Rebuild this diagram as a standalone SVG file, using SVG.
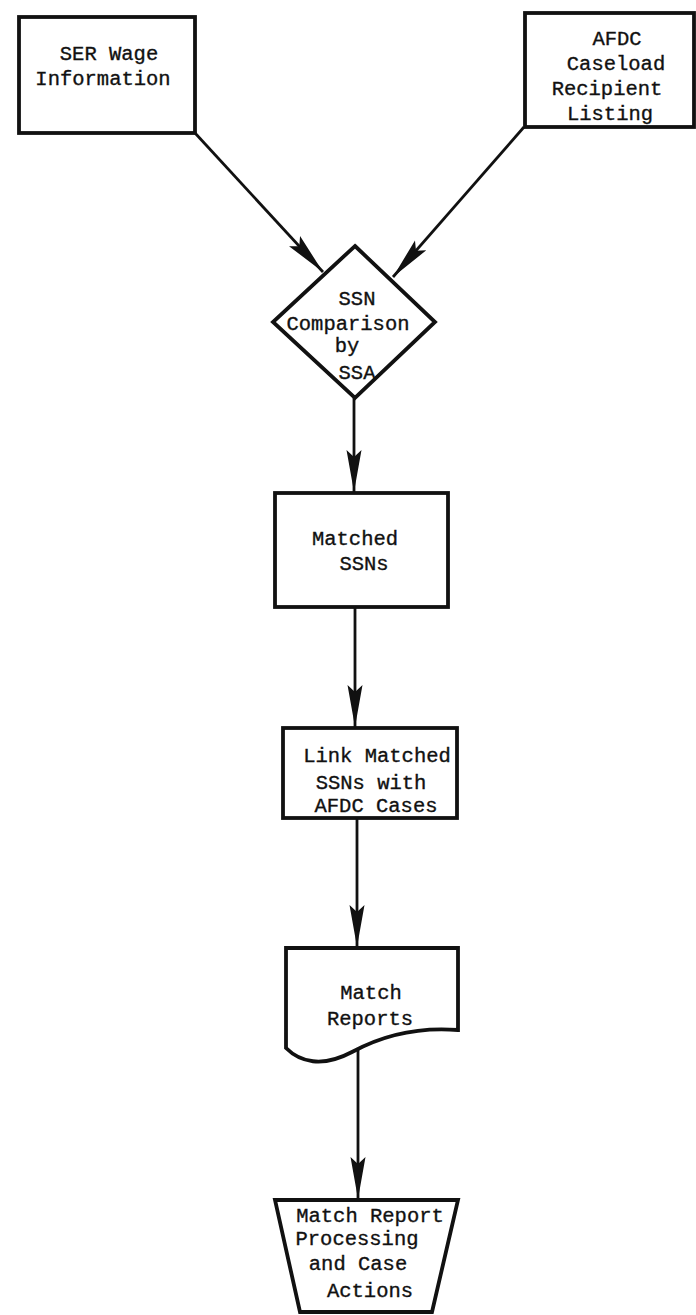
<svg xmlns="http://www.w3.org/2000/svg" width="696" height="1315" viewBox="0 0 696 1315">
  <style>
    .box { fill: #fff; stroke: #111; stroke-width: 3.8; stroke-linejoin: miter; }
    .lbl { font-family: "Liberation Mono", "DejaVu Sans Mono", monospace; font-size: 20.5px; fill: #111; stroke: #111; stroke-width: 0.35; text-anchor: middle; }
    .flow { fill: none; stroke: #111; stroke-width: 2.8; marker-end: url(#head); }
  </style>
  <defs>
    <marker id="head" markerUnits="userSpaceOnUse" viewBox="-44 -10 48 20" refX="0" refY="0" markerWidth="48" markerHeight="20" orient="auto" overflow="visible">
      <path d="M0,0 L-42,-7.5 L-35,0 L-42,7.5 Z" fill="#111"/>
    </marker>
  </defs>
  <rect width="696" height="1315" fill="#fff"/>

  <!-- connectors -->
  <g id="connectors">
    <line class="flow" x1="195" y1="133" x2="323" y2="272"/>
    <line class="flow" x1="524" y1="127" x2="393" y2="277"/>
    <line class="flow" x1="354" y1="398" x2="354" y2="492"/>
    <line class="flow" x1="355" y1="607" x2="355" y2="727"/>
    <line class="flow" x1="357" y1="818" x2="357" y2="947"/>
    <line class="flow" x1="358" y1="1046" x2="358" y2="1199"/>
  </g>

  <g id="ser-wage">
    <rect class="box" x="19" y="17" width="176" height="116"/>
    <text class="lbl" x="109" y="60">SER Wage</text>
    <text class="lbl" x="103" y="85">Information</text>
  </g>

  <g id="afdc-listing">
    <rect class="box" x="525" y="13" width="169" height="114"/>
    <text class="lbl" x="617" y="45">AFDC</text>
    <text class="lbl" x="616" y="70">Caseload</text>
    <text class="lbl" x="607" y="95">Recipient</text>
    <text class="lbl" x="610" y="120">Listing</text>
  </g>

  <g id="ssn-comparison">
    <polygon class="box" points="355,246 435,322 355,398 273,322"/>
    <text class="lbl" x="357" y="305">SSN</text>
    <text class="lbl" x="348" y="330">Comparison</text>
    <text class="lbl" x="347" y="352">by</text>
    <text class="lbl" x="357" y="379">SSA</text>
  </g>

  <g id="matched-ssns">
    <rect class="box" x="275" y="493" width="173" height="114"/>
    <text class="lbl" x="355" y="545">Matched</text>
    <text class="lbl" x="364" y="570">SSNs</text>
  </g>

  <g id="link-cases">
    <rect class="box" x="283" y="728" width="174" height="90"/>
    <text class="lbl" x="377" y="762">Link Matched</text>
    <text class="lbl" x="371" y="789">SSNs with</text>
    <text class="lbl" x="376" y="812">AFDC Cases</text>
  </g>

  <g id="match-reports">
    <path class="box" d="M286,948 L458,948 L458,1030 C420,1027 385,1034 352,1052 C322,1068 300,1062 286,1048 Z"/>
    <text class="lbl" x="371" y="999">Match</text>
    <text class="lbl" x="370" y="1025">Reports</text>
  </g>

  <g id="case-actions">
    <polygon class="box" points="275,1200 458,1200 432,1312 300,1312"/>
    <text class="lbl" x="370" y="1222">Match Report</text>
    <text class="lbl" x="357" y="1245">Processing</text>
    <text class="lbl" x="358" y="1270">and Case</text>
    <text class="lbl" x="370" y="1297">Actions</text>
  </g>
</svg>
